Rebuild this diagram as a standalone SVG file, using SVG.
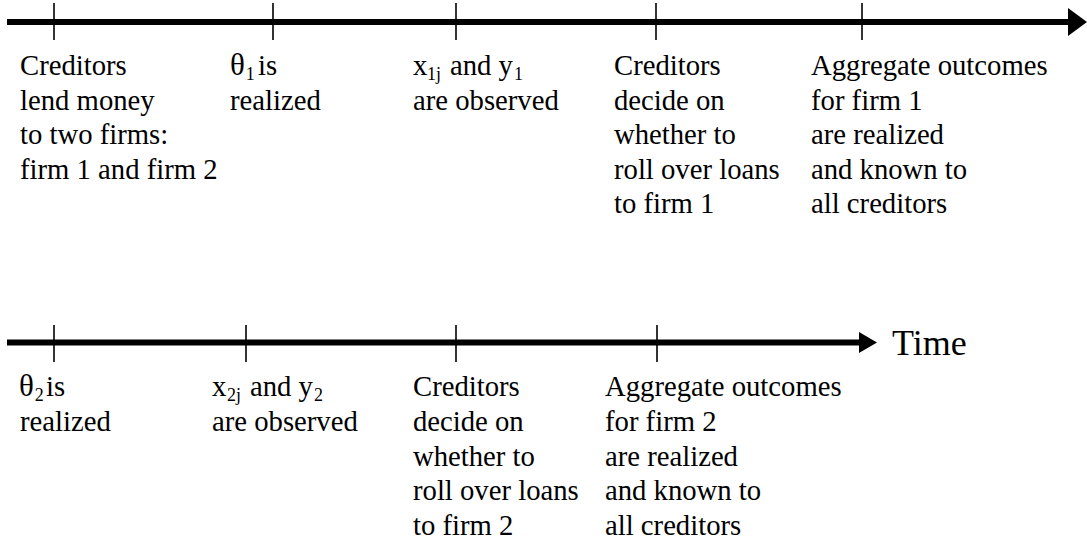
<svg xmlns="http://www.w3.org/2000/svg" width="1087" height="541" viewBox="0 0 1087 541">
<style>
.t{font-family:"Liberation Serif","Times New Roman",serif;font-size:28.7px;fill:#000}
.s{font-size:18px}
.axis{stroke:#000;stroke-width:6;fill:none}
.tick{stroke:#000;stroke-width:1.6;fill:none}
.head{fill:#000;stroke:none}
</style>
<rect width="1087" height="541" fill="#fff"/>
<g id="connectors">
<line class="axis" x1="7" y1="22" x2="1072" y2="22"/>
<polygon class="head" points="1068,8 1087,22 1068,36"/>
<line class="axis" x1="7" y1="342.5" x2="862" y2="342.5"/>
<polygon class="head" points="859,332 877,342.5 859,353"/>
<line class="tick" x1="54" y1="3" x2="54" y2="40"/>
<line class="tick" x1="273" y1="3" x2="273" y2="40"/>
<line class="tick" x1="456" y1="3" x2="456" y2="40"/>
<line class="tick" x1="656" y1="3" x2="656" y2="40"/>
<line class="tick" x1="862" y1="3" x2="862" y2="40"/>
<line class="tick" x1="54" y1="325" x2="54" y2="362"/>
<line class="tick" x1="246" y1="325" x2="246" y2="362"/>
<line class="tick" x1="456" y1="325" x2="456" y2="362"/>
<line class="tick" x1="657" y1="325" x2="657" y2="362"/>
</g>
<g id="time-label"><text class="t" x="892" y="355" style="font-size:36px">Time</text></g>
<g id="e1">
<text class="t" x="20" y="75">Creditors</text>
<text class="t" x="20" y="110">lend money</text>
<text class="t" x="20" y="144">to two firms:</text>
<text class="t" x="20" y="179">firm 1 and firm 2</text>
</g>
<g id="e2">
<text class="t" x="230" y="75"><tspan style="font-size:31px">θ</tspan><tspan class="s" dx="1" dy="5">1</tspan><tspan x="258" dy="-5">is</tspan></text>
<text class="t" x="230" y="110">realized</text>
</g>
<g id="e3">
<text class="t" x="413" y="75">x<tspan class="s" x="427" dy="5">1j</tspan><tspan x="450" dy="-5">and y</tspan><tspan class="s" dx="1" dy="5">1</tspan></text>
<text class="t" x="413" y="110">are observed</text>
</g>
<g id="e4">
<text class="t" x="614" y="75">Creditors</text>
<text class="t" x="614" y="110">decide on</text>
<text class="t" x="614" y="144">whether to</text>
<text class="t" x="614" y="179">roll over loans</text>
<text class="t" x="614" y="213">to firm 1</text>
</g>
<g id="e5">
<text class="t" x="811" y="75">Aggregate outcomes</text>
<text class="t" x="811" y="110">for firm 1</text>
<text class="t" x="811" y="144">are realized</text>
<text class="t" x="811" y="179">and known to</text>
<text class="t" x="811" y="213">all creditors</text>
</g>
<g id="f1">
<text class="t" x="19" y="396"><tspan style="font-size:31px">θ</tspan><tspan class="s" dx="1" dy="5">2</tspan><tspan x="46" dy="-5">is</tspan></text>
<text class="t" x="20" y="431">realized</text>
</g>
<g id="f2">
<text class="t" x="212" y="396">x<tspan class="s" x="227" dy="5">2j</tspan><tspan x="250" dy="-5">and y</tspan><tspan class="s" dx="1" dy="5">2</tspan></text>
<text class="t" x="212" y="431">are observed</text>
</g>
<g id="f3">
<text class="t" x="413" y="396">Creditors</text>
<text class="t" x="413" y="431">decide on</text>
<text class="t" x="413" y="466">whether to</text>
<text class="t" x="413" y="500">roll over loans</text>
<text class="t" x="413" y="535">to firm 2</text>
</g>
<g id="f4">
<text class="t" x="605" y="396">Aggregate outcomes</text>
<text class="t" x="605" y="431">for firm 2</text>
<text class="t" x="605" y="466">are realized</text>
<text class="t" x="605" y="500">and known to</text>
<text class="t" x="605" y="535">all creditors</text>
</g>
</svg>
